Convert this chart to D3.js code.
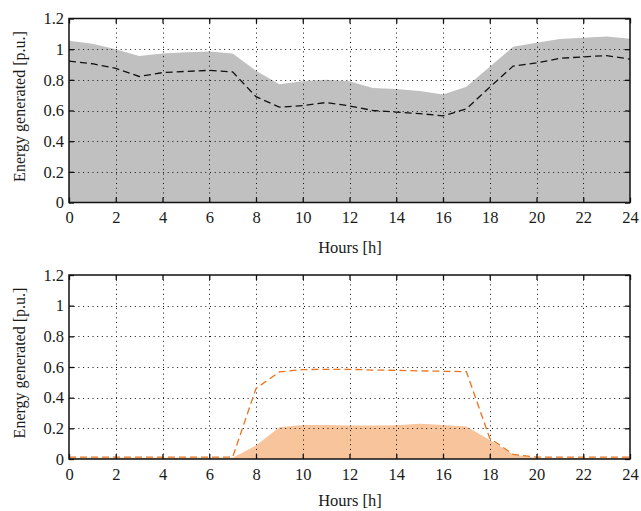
<!DOCTYPE html>
<html><head><meta charset="utf-8">
<script src="https://cdn.jsdelivr.net/npm/d3@7"></script>
</head><body style="margin:0">
<script>
const hours = d3.range(0, 25);
const xTicks = [0,2,4,6,8,10,12,14,16,18,20,22,24];
const yTicks = [0,0.2,0.4,0.6,0.8,1,1.2];
const yTickLabels = ["0","0.2","0.4","0.6","0.8","1","1.2"];
const topArea = [1.055,1.035,1.0,0.955,0.972,0.98,0.985,0.972,0.86,0.772,0.79,0.8,0.79,0.746,0.74,0.727,0.705,0.755,0.885,1.016,1.042,1.066,1.074,1.082,1.068];
const topLine = [0.922,0.905,0.875,0.822,0.847,0.855,0.862,0.852,0.69,0.622,0.632,0.652,0.63,0.6,0.59,0.58,0.565,0.61,0.752,0.89,0.91,0.94,0.95,0.958,0.935];
const botArea = [0.008,0.008,0.008,0.008,0.008,0.008,0.008,0.008,0.088,0.207,0.222,0.222,0.218,0.218,0.22,0.23,0.222,0.212,0.124,0.03,0.006,0.006,0.006,0.006,0.006];
const botLine = [0.012,0.012,0.012,0.012,0.012,0.012,0.012,0.012,0.46,0.568,0.583,0.585,0.585,0.58,0.578,0.575,0.572,0.57,0.135,0.03,0.012,0.012,0.012,0.012,0.012];
const xLabel = "Hours [h]";
const yLabel = "Energy generated [p.u.]";

const FONT = "Liberation Serif";
const W = 641, H = 511;
const svg = d3.select("body").append("svg").attr("width", W).attr("height", H)
  .style("display", "block");

function addText(parent) {
  return parent.append("text").attr("font-family", FONT).attr("fill", "#1a1a1a");
}

function panel(top, bottom, area, line, fillColor, lineColor, labelGap) {
  const x = d3.scaleLinear().domain([0, 24]).range([69, 630]);
  const y = d3.scaleLinear().domain([0, 1.2]).range([bottom, top]);
  const g = svg.append("g");
  g.append("path").datum(hours)
    .attr("d", d3.area().x(d => x(d)).y0(y(0)).y1(d => y(area[d])))
    .attr("fill", fillColor);
  const gridX = xTicks.filter(t => t > 0 && t < 24);
  const gridY = yTicks.filter(t => t > 0 && t < 1.2);
  g.selectAll(".gx").data(gridX).join("line")
    .attr("x1", d => Math.round(x(d)) + 0.5).attr("x2", d => Math.round(x(d)) + 0.5).attr("y1", top).attr("y2", bottom)
    .attr("stroke", "#111").attr("stroke-width", 1).attr("stroke-dasharray", "1,3.7");
  g.selectAll(".gy").data(gridY).join("line")
    .attr("y1", d => Math.round(y(d)) + 0.5).attr("y2", d => Math.round(y(d)) + 0.5).attr("x1", 69).attr("x2", 630)
    .attr("stroke", "#111").attr("stroke-width", 1).attr("stroke-dasharray", "1,3.7");
  g.append("path").datum(hours)
    .attr("d", d3.line().x(d => x(d)).y(d => y(line[d])))
    .attr("fill", "none").attr("stroke", lineColor).attr("stroke-width", 1.3)
    .attr("stroke-dasharray", "7,4");
  const ax = g.append("g").attr("transform", `translate(0,${bottom})`)
    .call(d3.axisBottom(x).tickValues(xTicks).tickSize(-5).tickPadding(9).tickFormat(d3.format("d")));
  const axTop = g.append("g").attr("transform", `translate(0,${top})`)
    .call(d3.axisTop(x).tickValues(xTicks).tickSize(-5).tickFormat(""));
  const ay = g.append("g").attr("transform", `translate(69,0)`)
    .call(d3.axisLeft(y).tickValues(yTicks).tickSize(-5).tickPadding(5).tickFormat((d,i) => yTickLabels[i]));
  const ayR = g.append("g").attr("transform", `translate(630,0)`)
    .call(d3.axisRight(y).tickValues(yTicks).tickSize(-5).tickFormat(""));
  [ax, axTop, ay, ayR].forEach(a => {
    a.attr("font-family", FONT).attr("font-size", 16.5);
    a.select(".domain").remove();
    a.selectAll("line").attr("stroke", "#111").attr("stroke-width", 1.3);
    a.selectAll("text").attr("fill", "#1a1a1a").attr("font-family", FONT).attr("font-size", 16.5);
  });
  g.append("rect").attr("x", 69).attr("y", top).attr("width", 561).attr("height", bottom - top)
    .attr("fill", "none").attr("stroke", "#111").attr("stroke-width", 1.5);
  addText(g).attr("x", 350).attr("y", bottom + labelGap).attr("text-anchor", "middle")
    .attr("font-size", 16.5).text(xLabel);
  addText(g).attr("transform", `translate(25,${(top + bottom) / 2 - 4}) rotate(-90)`)
    .attr("text-anchor", "middle").attr("font-size", 16).text(yLabel);
}

panel(18.5, 202.5, topArea, topLine, "#c0c0c0", "#111", 50);
panel(275, 459, botArea, botLine, "#f8c49c", "#e8731e", 47);
</script>
</body></html>
